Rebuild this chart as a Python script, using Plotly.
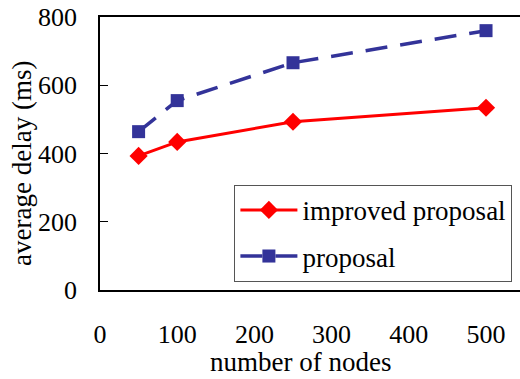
import plotly.graph_objects as go

nodes = [50, 100, 250, 500]
improved = [393, 434, 493, 534]
proposal = [464, 555, 666, 760]

x_ticks = [0, 100, 200, 300, 400, 500]
y_ticks = [0, 200, 400, 600, 800]

FONT = "Liberation Serif"
FS = 26
FS2 = 27

fig = go.Figure()
fig.add_trace(go.Scatter(
    x=nodes, y=improved, name="improved proposal", mode="lines+markers",
    line=dict(color="#ff0000", width=3),
    marker=dict(symbol="diamond", size=14, color="#ff0000"),
    legendgroup="a", cliponaxis=False,
))
fig.add_trace(go.Scatter(
    x=nodes, y=proposal, name="proposal", mode="lines+markers",
    line=dict(color="#333399", width=3.5, dash="22px,13px"),
    marker=dict(symbol="square", size=13, color="#333399"),
    legendgroup="b", cliponaxis=False,
))

fig.update_layout(
    width=520, height=379,
    margin=dict(l=100, r=0, t=17, b=89),
    paper_bgcolor="white", plot_bgcolor="white",
    font=dict(family=FONT, size=FS, color="black"),
    showlegend=True,
    legend=dict(
        x=0.32, y=0.385, xanchor="left", yanchor="top",
        bordercolor="#555555", borderwidth=1, bgcolor="white",
        font=dict(family=FONT, size=FS2, color="black"),
        tracegroupgap=8, traceorder="grouped",
        itemwidth=57,
    ),
    xaxis=dict(
        range=[0, 544], tickvals=x_ticks, ticks="", showgrid=False,
        zeroline=False, showline=True, linecolor="black", linewidth=1.5,
        mirror=True, ticklabelstandoff=20,
        tickfont=dict(family=FONT, size=FS),
    ),
    yaxis=dict(
        range=[0, 800], tickvals=y_ticks, ticks="inside", ticklen=8,
        tickcolor="black", showgrid=False, zeroline=False, showline=True,
        linecolor="black", linewidth=1.5, ticklabelstandoff=16,
        tickfont=dict(family=FONT, size=FS),
    ),
    annotations=[
        dict(text="number of nodes", xref="paper", yref="paper",
             x=(300 - 100) / 420, y=(290 - 362) / 273,
             xanchor="center", yanchor="middle", showarrow=False,
             font=dict(family=FONT, size=FS2)),
        dict(text="average delay (ms)", xref="paper", yref="paper",
             x=(22 - 100) / 420, y=(290 - 164) / 273, textangle=-90,
             xanchor="center", yanchor="middle", showarrow=False,
             font=dict(family=FONT, size=FS2)),
    ],
)

fig.write_html("out.html")
